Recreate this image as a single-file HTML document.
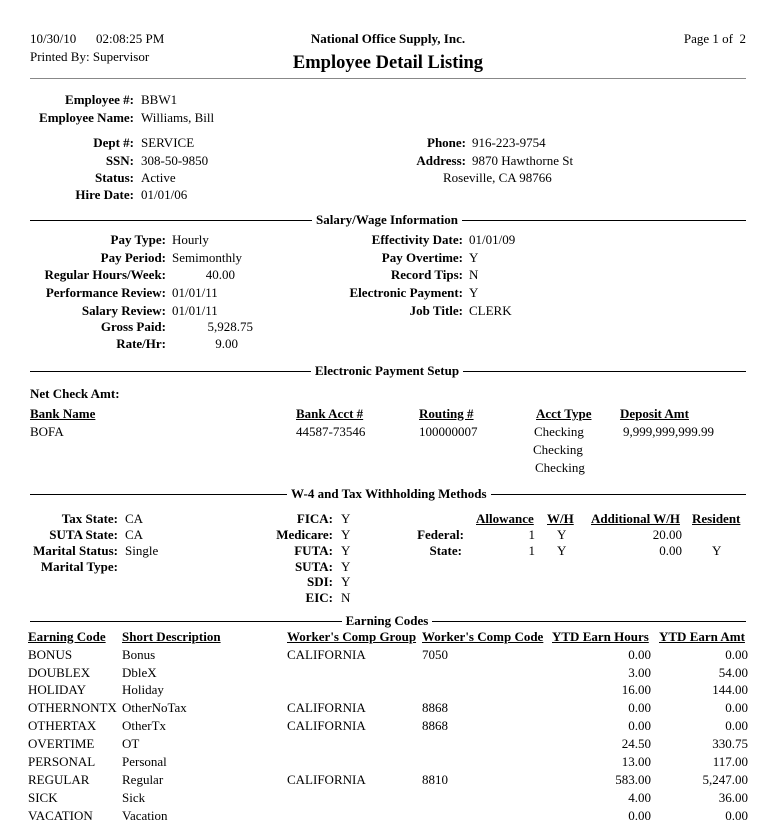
<!DOCTYPE html>
<html><head><meta charset="utf-8"><style>
body{margin:0;background:#fff;width:761px;height:839px;position:relative;overflow:hidden;font-family:"Liberation Serif",serif;font-size:13px;color:#000}
div{position:absolute;line-height:14px;white-space:nowrap}
.b{font-weight:bold}
.u{text-decoration:underline;font-weight:bold}
.hr{height:0;border-top:1px solid #000;line-height:0}
.tc{left:287px;width:200px;text-align:center}
.tc span{background:#fff;padding:0 4px;font-weight:bold}
</style></head><body>
<div style="left:30px;top:32px">10/30/10</div><div style="left:96px;top:32px">02:08:25 PM</div>
<div style="left:30px;top:50px">Printed By: Supervisor</div>
<div class="b" style="left:288px;width:200px;text-align:center;top:32px">National Office Supply, Inc.</div>
<div class="b" style="left:238px;width:300px;text-align:center;top:53px;font-size:18.5px;line-height:20px">Employee Detail Listing</div>
<div style="right:15px;top:32px">Page 1 of&nbsp; 2</div>
<div class="hr" style="left:30px;width:716px;top:78px;border-color:#888"></div>

<div class="b" style="right:627px;top:93px">Employee #:</div><div style="left:141px;top:93px">BBW1</div>
<div class="b" style="right:627px;top:111px">Employee Name:</div><div style="left:141px;top:111px">Williams, Bill</div>
<div class="b" style="right:627px;top:136px">Dept #:</div><div style="left:141px;top:136px">SERVICE</div>
<div class="b" style="right:627px;top:154px">SSN:</div><div style="left:141px;top:154px">308-50-9850</div>
<div class="b" style="right:627px;top:171px">Status:</div><div style="left:141px;top:171px">Active</div>
<div class="b" style="right:627px;top:188px">Hire Date:</div><div style="left:141px;top:188px">01/01/06</div>
<div class="b" style="right:295px;top:136px">Phone:</div><div style="left:472px;top:136px">916-223-9754</div>
<div class="b" style="right:295px;top:154px">Address:</div><div style="left:472px;top:154px">9870 Hawthorne St</div>
<div style="left:443px;top:171px">Roseville, CA 98766</div>

<div class="hr" style="left:30px;width:716px;top:220px"></div>
<div class="tc" style="top:213px"><span>Salary/Wage Information</span></div>
<div class="b" style="right:595px;top:233px">Pay Type:</div><div style="left:172px;top:233px">Hourly</div>
<div class="b" style="right:595px;top:251px">Pay Period:</div><div style="left:172px;top:251px">Semimonthly</div>
<div class="b" style="right:595px;top:268px">Regular Hours/Week:</div><div style="right:526px;top:268px">40.00</div>
<div class="b" style="right:595px;top:286px">Performance Review:</div><div style="left:172px;top:286px">01/01/11</div>
<div class="b" style="right:595px;top:304px">Salary Review:</div><div style="left:172px;top:304px">01/01/11</div>
<div class="b" style="right:595px;top:320px">Gross Paid:</div><div style="right:508px;top:320px">5,928.75</div>
<div class="b" style="right:595px;top:337px">Rate/Hr:</div><div style="right:523px;top:337px">9.00</div>
<div class="b" style="right:298px;top:233px">Effectivity Date:</div><div style="left:469px;top:233px">01/01/09</div>
<div class="b" style="right:298px;top:251px">Pay Overtime:</div><div style="left:469px;top:251px">Y</div>
<div class="b" style="right:298px;top:268px">Record Tips:</div><div style="left:469px;top:268px">N</div>
<div class="b" style="right:298px;top:286px">Electronic Payment:</div><div style="left:469px;top:286px">Y</div>
<div class="b" style="right:298px;top:304px">Job Title:</div><div style="left:469px;top:304px">CLERK</div>

<div class="hr" style="left:30px;width:716px;top:371px"></div>
<div class="tc" style="top:364px"><span>Electronic Payment Setup</span></div>
<div class="b" style="left:30px;top:387px">Net Check Amt:</div>
<div class="u" style="left:30px;top:407px">Bank Name</div>
<div class="u" style="left:296px;top:407px">Bank Acct #</div>
<div class="u" style="left:419px;top:407px">Routing #</div>
<div class="u" style="left:536px;top:407px">Acct Type</div>
<div class="u" style="left:620px;top:407px">Deposit Amt</div>
<div style="left:30px;top:425px">BOFA</div>
<div style="left:296px;top:425px">44587-73546</div>
<div style="left:419px;top:425px">100000007</div>
<div style="left:534px;top:425px">Checking</div>
<div style="left:623px;top:425px">9,999,999,999.99</div>
<div style="left:533px;top:443px">Checking</div>
<div style="left:535px;top:461px">Checking</div>

<div class="hr" style="left:30px;width:716px;top:494px"></div>
<div class="tc" style="top:487px"><span>W-4 and Tax Withholding Methods</span></div>
<div class="b" style="right:643px;top:512px">Tax State:</div><div style="left:125px;top:512px">CA</div>
<div class="b" style="right:643px;top:528px">SUTA State:</div><div style="left:125px;top:528px">CA</div>
<div class="b" style="right:643px;top:544px">Marital Status:</div><div style="left:125px;top:544px">Single</div>
<div class="b" style="right:643px;top:560px">Marital Type:</div>
<div class="b" style="right:428px;top:512px">FICA:</div><div style="left:341px;top:512px">Y</div>
<div class="b" style="right:428px;top:528px">Medicare:</div><div style="left:341px;top:528px">Y</div>
<div class="b" style="right:428px;top:544px">FUTA:</div><div style="left:341px;top:544px">Y</div>
<div class="b" style="right:428px;top:560px">SUTA:</div><div style="left:341px;top:560px">Y</div>
<div class="b" style="right:428px;top:575px">SDI:</div><div style="left:341px;top:575px">Y</div>
<div class="b" style="right:428px;top:591px">EIC:</div><div style="left:341px;top:591px">N</div>
<div class="u" style="left:476px;top:512px">Allowance</div>
<div class="u" style="left:547px;top:512px">W/H</div>
<div class="u" style="left:591px;top:512px">Additional W/H</div>
<div class="u" style="left:692px;top:512px">Resident</div>
<div class="b" style="right:297px;top:528px">Federal:</div>
<div class="b" style="right:299px;top:544px">State:</div>
<div style="right:226px;top:528px">1</div><div style="left:557px;top:528px">Y</div><div style="right:79px;top:528px">20.00</div>
<div style="right:226px;top:544px">1</div><div style="left:557px;top:544px">Y</div><div style="right:79px;top:544px">0.00</div><div style="left:712px;top:544px">Y</div>

<div class="hr" style="left:30px;width:716px;top:621px"></div>
<div class="tc" style="top:614px"><span>Earning Codes</span></div>
<div class="u" style="left:28px;top:630px">Earning Code</div>
<div class="u" style="left:122px;top:630px">Short Description</div>
<div class="u" style="left:287px;top:630px">Worker's Comp Group</div>
<div class="u" style="left:422px;top:630px">Worker's Comp Code</div>
<div class="u" style="left:552px;top:630px">YTD Earn Hours</div>
<div class="u" style="left:659px;top:630px">YTD Earn Amt</div>

<div style="left:28px;top:648px">BONUS</div><div style="left:122px;top:648px">Bonus</div><div style="left:287px;top:648px">CALIFORNIA</div><div style="left:422px;top:648px">7050</div><div style="right:110px;top:648px">0.00</div><div style="right:13px;top:648px">0.00</div>
<div style="left:28px;top:666px">DOUBLEX</div><div style="left:122px;top:666px">DbleX</div><div style="right:110px;top:666px">3.00</div><div style="right:13px;top:666px">54.00</div>
<div style="left:28px;top:683px">HOLIDAY</div><div style="left:122px;top:683px">Holiday</div><div style="right:110px;top:683px">16.00</div><div style="right:13px;top:683px">144.00</div>
<div style="left:28px;top:701px">OTHERNONTX</div><div style="left:122px;top:701px">OtherNoTax</div><div style="left:287px;top:701px">CALIFORNIA</div><div style="left:422px;top:701px">8868</div><div style="right:110px;top:701px">0.00</div><div style="right:13px;top:701px">0.00</div>
<div style="left:28px;top:719px">OTHERTAX</div><div style="left:122px;top:719px">OtherTx</div><div style="left:287px;top:719px">CALIFORNIA</div><div style="left:422px;top:719px">8868</div><div style="right:110px;top:719px">0.00</div><div style="right:13px;top:719px">0.00</div>
<div style="left:28px;top:737px">OVERTIME</div><div style="left:122px;top:737px">OT</div><div style="right:110px;top:737px">24.50</div><div style="right:13px;top:737px">330.75</div>
<div style="left:28px;top:755px">PERSONAL</div><div style="left:122px;top:755px">Personal</div><div style="right:110px;top:755px">13.00</div><div style="right:13px;top:755px">117.00</div>
<div style="left:28px;top:773px">REGULAR</div><div style="left:122px;top:773px">Regular</div><div style="left:287px;top:773px">CALIFORNIA</div><div style="left:422px;top:773px">8810</div><div style="right:110px;top:773px">583.00</div><div style="right:13px;top:773px">5,247.00</div>
<div style="left:28px;top:791px">SICK</div><div style="left:122px;top:791px">Sick</div><div style="right:110px;top:791px">4.00</div><div style="right:13px;top:791px">36.00</div>
<div style="left:28px;top:809px">VACATION</div><div style="left:122px;top:809px">Vacation</div><div style="right:110px;top:809px">0.00</div><div style="right:13px;top:809px">0.00</div>
</body></html>
